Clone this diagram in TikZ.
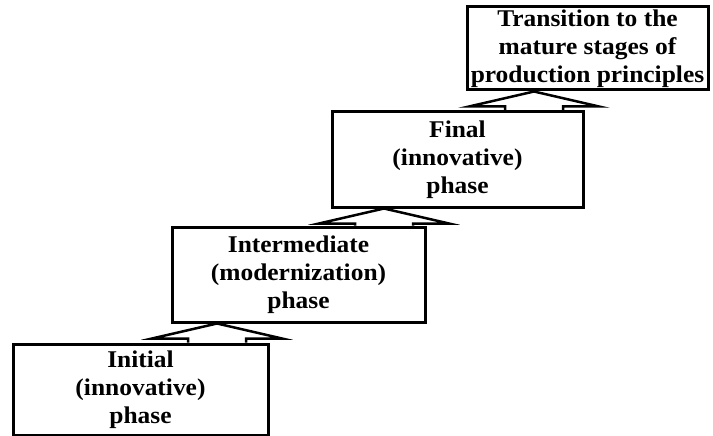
\documentclass[tikz,border=0pt]{standalone}
\usepackage{fontspec}
\setmainfont{Liberation Serif}[FakeStretch=1.06]
\usetikzlibrary{calc}
\tikzset{
  phasebox/.style={draw, line width=3pt, rectangle, align=center, inner sep=0pt,
    font=\fontsize{24}{28}\selectfont\bfseries},
  barrow/.style={draw, line width=2.5pt, line join=miter}
}
\newcommand\blockarrow[3]{% #1 lower node, #2 upper node, #3 x of apex (pt)
  \draw[barrow] let \p1=(#1.north), \p2=(#2.south) in
    (#3pt-29pt,\y1) -- (#3pt-29pt,\y2-15pt) -- (#3pt-65pt,\y2-15pt) -- (#3pt,\y2)
    -- (#3pt+65pt,\y2-15pt) -- (#3pt+29pt,\y2-15pt) -- (#3pt+29pt,\y1);
}
\begin{document}
\begin{tikzpicture}[x=1pt,y=-1pt]
\useasboundingbox[fill=white] (0,0) rectangle (713,436);
\node[phasebox, minimum width=255pt, minimum height=91pt] (b1) at (140.5,389.5)
  {Initial\\(innovative)\\phase};
\node[phasebox, minimum width=253pt, minimum height=95pt] (b2) at (298.5,274.5)
  {Intermediate\\(modernization)\\phase};
\node[phasebox, minimum width=251pt, minimum height=95pt] (b3) at (457.5,159.5)
  {Final\\(innovative)\\phase};
\node[phasebox, minimum width=241pt, minimum height=83pt] (b4) at (587.5,48.5)
  {Transition to the\\mature stages of\\production principles};
\blockarrow{b1}{b2}{217}
\blockarrow{b2}{b3}{384}
\blockarrow{b3}{b4}{534}
\end{tikzpicture}
\end{document}
